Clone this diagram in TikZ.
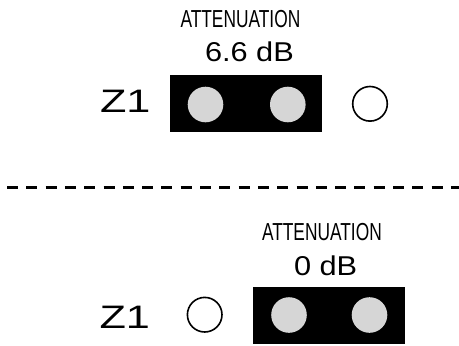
\documentclass[tikz,border=0pt]{standalone}
\usepackage{fontspec}
\setmainfont{Liberation Sans}
\usepackage{graphicx}
\definecolor{pingray}{HTML}{D6D6D6}
\begin{document}
\begin{tikzpicture}[x=1pt,y=-1pt,
  pad/.style={rectangle, draw=none, fill=black, minimum width=152pt, minimum height=57pt, inner sep=0pt},
  pin/.style={circle, fill=pingray, draw=none, minimum size=35.6pt, inner sep=0pt},
  hole/.style={circle, draw=black, fill=white, line width=1.6pt, minimum size=34.6pt, inner sep=0pt},
  lbl/.style={inner sep=0pt, outer sep=0pt, anchor=base west},
  attn/.style={lbl, font=\fontsize{24.6}{24.6}\selectfont},
  val/.style={lbl, font=\fontsize{27.2}{27.2}\selectfont},
  zed/.style={lbl, font=\fontsize{32.5}{32.5}\selectfont},
  divider/.style={line width=3pt, dash pattern=on 11pt off 8.3pt}]
\useasboundingbox (0,0) rectangle (459,346);
\fill[white] (0,0) rectangle (459,346);
% top
\node[attn] (attnA) at (180.5,27.5) {\scalebox{0.705}[1]{ATTENUATION}};
\node[val] (valA) at (205,61) {\scalebox{1.13}[1]{6.6 dB}};
\node[zed] (zA) at (100,112) {\scalebox{1.33}[1]{Z1}};
\node[pad] (padA) at (246,103.4) {};
\node[pin] (pinA1) at (205.5,104.5) {};
\node[pin] (pinA2) at (287.8,104.5) {};
\node[hole] (holeA) at (370,103.8) {};
% divider
\coordinate (dl) at (7,187.3);
\coordinate (dr) at (459,187.3);
\draw[divider] (dl) -- (dr);
% bottom
\node[attn] (attnB) at (262,240.5) {\scalebox{0.705}[1]{ATTENUATION}};
\node[val] (valB) at (294,275) {\scalebox{1.13}[1]{0 dB}};
\node[zed] (zB) at (99.5,328) {\scalebox{1.33}[1]{Z1}};
\node[pad] (padB) at (328.5,315.8) {};
\node[pin] (pinB1) at (289,315) {};
\node[pin] (pinB2) at (369.5,315) {};
\node[hole] (holeB) at (204.7,314.7) {};
\end{tikzpicture}
\end{document}
